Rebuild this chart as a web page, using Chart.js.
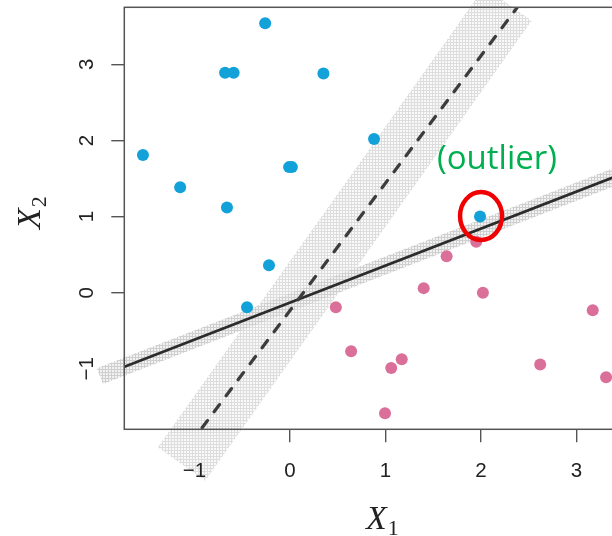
<!DOCTYPE html>
<html>
<head>
<meta charset="utf-8">
<script src="https://cdn.jsdelivr.net/npm/chart.js@4"></script>
<style>
  html, body { margin: 0; padding: 0; background: #fff; overflow: hidden; }
  #wrap { width: 612px; height: 536px; overflow: hidden; }
</style>
</head>
<body>
<div id="wrap"><canvas id="svm" width="660" height="536"></canvas></div>
<script>
// Two classes in (X1, X2) plus the single blue point that sits on the wrong side
const blueX = [-0.26, -0.68, -0.59, 0.35, -1.54, -1.15, -0.66, -0.01, 0.02, -0.22, -0.45, 0.88];
const blueY = [3.54, 2.89, 2.89, 2.88, 1.81, 1.385, 1.12, 1.65, 1.65, 0.36, -0.19, 2.02];
const outlierX = [1.99];
const outlierY = [1.00];
const pinkX = [0.48, 0.64, 1.06, 1.17, 0.995, 1.40, 2.02, 1.64, 1.95, 2.62, 3.17, 3.31];
const pinkY = [-0.19, -0.77, -0.99, -0.875, -1.585, 0.06, 0.0, 0.48, 0.67, -0.945, -0.23, -1.11];

// Hyperplanes: dashed = without the outlier, solid = with it
const dashedX = [-0.92, 2.40];
const dashedY = [-1.775, 3.783];
const solidX = [-1.74, 3.67];
const solidY = [-0.976, 1.654];

// Margin bands drawn along each hyperplane
const dashedBandX = [-1.136, 2.283];
const dashedBandY = [-2.251, 3.794];
const solidBandX = [-1.99, 3.8];
const solidBandY = [-1.097, 1.717];

const xTicks = [-1, 0, 1, 2, 3];
const yTicks = [-1, 0, 1, 2, 3];

const BLUE = '#12a2d9';
const PINK = '#da6f9a';
const AXIS = '#555';
const LABEL = '#222';

const pts = (xs, ys) => xs.map((x, i) => ({ x: x, y: ys[i] }));

// fine grey mesh used to fill the margin bands
function meshPattern(dark, light) {
    const c = document.createElement('canvas');
    c.width = 3; c.height = 3;
    const g = c.getContext('2d');
    g.fillStyle = light;
    g.fillRect(0, 0, 3, 3);
    g.fillStyle = dark;
    g.fillRect(0, 0, 3, 1);
    g.fillRect(0, 0, 1, 3);
    return g.createPattern(c, 'repeat');
}

const ctx = document.getElementById('svm').getContext('2d');
const bandFill = meshPattern('#dddddd', '#f9f9f9');
const bandFillDark = meshPattern('#cfcfcf', '#f2f2f2');

const axisDecor = {
    id: 'axisDecor',
    afterDraw(chart) {
        const c = chart.ctx;
        const a = chart.chartArea;
        const sx = chart.scales.x, sy = chart.scales.y;
        c.save();

        // plot box
        c.strokeStyle = AXIS;
        c.lineWidth = 1.5;
        c.strokeRect(a.left, a.top, a.right - a.left, a.bottom - a.top);

        // tick labels
        c.fillStyle = LABEL;
        c.font = '20.5px "Liberation Sans", Arial, sans-serif';
        c.textAlign = 'center';
        c.textBaseline = 'alphabetic';
        xTicks.forEach(v => {
            const t = v < 0 ? '\u2212' + Math.abs(v) : String(v);
            c.fillText(t, sx.getPixelForValue(v), a.bottom + 48);
        });
        yTicks.forEach(v => {
            const t = v < 0 ? '\u2212' + Math.abs(v) : String(v);
            c.save();
            c.translate(a.left - 31, sy.getPixelForValue(v));
            c.rotate(-Math.PI / 2);
            c.fillText(t, 0, 0);
            c.restore();
        });

        // axis titles X1 / X2
        c.textAlign = 'left';
        const big = 'italic 34px "Liberation Serif", "Times New Roman", serif';
        const sub = '22px "Liberation Serif", "Times New Roman", serif';
        c.font = big;
        const wX = c.measureText('X').width;
        c.fillText('X', 366, 529);
        c.font = sub;
        c.fillText('1', 366 + wX + 1, 535);

        c.save();
        c.translate(40, 229);
        c.rotate(-Math.PI / 2);
        c.font = big;
        c.fillText('X', 0, 0);
        c.font = sub;
        c.fillText('2', wX + 1, 6);
        c.restore();

        // outlier callout
        const ox = sx.getPixelForValue(outlierX[0]);
        const oy = sy.getPixelForValue(outlierY[0]);
        c.strokeStyle = '#f00000';
        c.lineWidth = 4.5;
        c.beginPath();
        c.ellipse(ox + 1, oy - 0.5, 21, 24, 0, 0, Math.PI * 2);
        c.stroke();

        c.fillStyle = '#00b050';
        c.font = '33px "Open Sans", "Noto Sans", sans-serif';
        c.textAlign = 'center';
        c.textBaseline = 'middle';
        c.fillText('(outlier)', ox + 17, oy - 57);

        c.restore();
    }
};

new Chart(ctx, {
    type: 'scatter',
    data: {
        datasets: [
            {
                data: pts(dashedX, dashedY),
                showLine: true,
                borderColor: '#3c3c3c',
                borderWidth: 3.2,
                borderDash: [9, 11],
                borderCapStyle: 'round',
                pointRadius: 0,
                order: 1
            },
            {
                data: pts(solidX, solidY),
                showLine: true,
                borderColor: '#2b2b2b',
                borderWidth: 2.6,
                pointRadius: 0,
                order: 1
            },
            {
                data: pts(blueX, blueY).concat(pts(outlierX, outlierY)),
                backgroundColor: BLUE,
                borderColor: BLUE,
                pointRadius: 6,
                borderWidth: 0,
                order: 2
            },
            {
                data: pts(pinkX, pinkY),
                backgroundColor: PINK,
                borderColor: PINK,
                pointRadius: 6,
                borderWidth: 0,
                order: 2
            },
            {
                data: pts(solidBandX, solidBandY),
                showLine: true,
                borderColor: bandFillDark,
                borderWidth: 17,
                borderCapStyle: 'butt',
                pointRadius: 0,
                clip: false,
                order: 3
            },
            {
                data: pts(dashedBandX, dashedBandY),
                showLine: true,
                borderColor: bandFill,
                borderWidth: 58,
                borderCapStyle: 'butt',
                pointRadius: 0,
                clip: false,
                order: 4
            }
        ]
    },
    options: {
        responsive: false,
        animation: false,
        events: [],
        layout: { padding: { left: 0, top: 7.3, right: 20, bottom: 0 } },
        plugins: { legend: { display: false }, tooltip: { enabled: false } },
        scales: {
            x: {
                type: 'linear',
                min: -1.735,
                max: 3.665,
                z: 1,
                afterBuildTicks: s => { s.ticks = xTicks.map(v => ({ value: v })); },
                afterFit: s => { s.height = 106.7; },
                ticks: { display: false },
                border: { display: false },
                grid: { drawOnChartArea: false, drawTicks: true, tickLength: 13, color: AXIS, lineWidth: 1.4 }
            },
            y: {
                type: 'linear',
                min: -1.795,
                max: 3.75,
                z: 1,
                afterBuildTicks: s => { s.ticks = yTicks.map(v => ({ value: v })); },
                afterFit: s => { s.width = 124.3; },
                ticks: { display: false },
                border: { display: false },
                grid: { drawOnChartArea: false, drawTicks: true, tickLength: 13, color: AXIS, lineWidth: 1.4 }
            }
        }
    },
    plugins: [axisDecor]
});
</script>
</body>
</html>
